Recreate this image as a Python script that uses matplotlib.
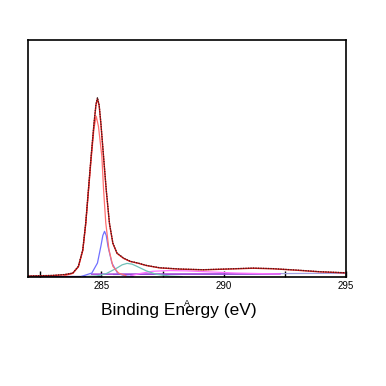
import numpy as np
from matplotlib import pyplot

pyplot.rcParams['font.family'] = ['Liberation Sans', 'DejaVu Sans']

data_x = [282.0, 283.0, 283.5, 283.83, 284.06, 284.24, 284.36, 284.47, 284.58, 284.70,
          284.78, 284.84, 284.91, 284.98, 285.09, 285.2, 285.33, 285.47, 285.64, 285.91,
          286.18, 286.5, 286.84, 287.38, 288.2, 289.16, 290.1, 291.2, 292.0, 292.97,
          293.92, 294.95]
data_y = [0.004, 0.007, 0.012, 0.02, 0.058, 0.151, 0.30, 0.486, 0.672, 0.859,
          0.965, 1.0, 0.96, 0.859, 0.672, 0.486, 0.30, 0.188, 0.132, 0.104,
          0.086, 0.076, 0.063, 0.050, 0.043, 0.039, 0.043, 0.048, 0.045, 0.037,
          0.028, 0.022]

# fitted components
c1_x = [283.5, 283.83, 284.06, 284.24, 284.36, 284.47, 284.58, 284.70, 284.79, 284.88,
        285.02, 285.09, 285.18, 285.31, 285.47, 285.70, 286.0]
c1_y = [0.005, 0.018, 0.055, 0.145, 0.29, 0.47, 0.65, 0.83, 0.896, 0.84,
        0.672, 0.486, 0.30, 0.151, 0.058, 0.02, 0.005]
c2_x = [284.2, 284.61, 284.84, 284.98, 285.06, 285.13, 285.2, 285.27, 285.43, 285.66, 285.95, 286.3]
c2_y = [0.002, 0.02, 0.076, 0.17, 0.23, 0.253, 0.23, 0.17, 0.076, 0.02, 0.004, 0.0]
c3_x = [284.4, 284.8, 285.2, 285.61, 285.85, 286.05, 286.25, 286.43, 286.84, 287.25, 287.8, 288.3]
c3_y = [0.0, 0.003, 0.017, 0.046, 0.066, 0.074, 0.070, 0.059, 0.032, 0.013, 0.003, 0.0]
c4_x = [286.2, 286.6, 287.1, 287.8, 288.5, 289.5, 290.5, 291.5, 292.3]
c4_y = [0.005, 0.018, 0.03, 0.034, 0.032, 0.026, 0.02, 0.017, 0.015]
c5_x = [284.6, 292.3]
c5_y = [0.014, 0.015]
bg_x = [285.5, 290.0, 292.3, 293.5, 295.0]
bg_y = [0.012, 0.014, 0.017, 0.018, 0.019]
base_x = [282.0, 285.0]
base_y = [0.001, 0.001]
# envelope of the fit
env_x = data_x
env_y = [0.003, 0.006, 0.011, 0.019, 0.056, 0.148, 0.297, 0.482, 0.668, 0.855,
         0.96, 0.995, 0.955, 0.855, 0.668, 0.482, 0.297, 0.186, 0.13, 0.102,
         0.085, 0.075, 0.062, 0.049, 0.042, 0.038, 0.042, 0.047, 0.044, 0.036,
         0.027, 0.021]

fig = pyplot.figure(figsize=(3.86, 3.86), dpi=100)
ax = fig.add_axes([0.0725, 0.2824, 0.8238, 0.614])

ax.plot(base_x, base_y, color='#202080', lw=0.9)
ax.plot(bg_x, bg_y, color='#a0a0e0', lw=0.9)
ax.plot(c5_x, c5_y, color='#9a30d8', lw=1.0)
ax.plot(c4_x, c4_y, color='#ff70ff', lw=0.9)
ax.plot(c3_x, c3_y, color='#70c0b8', lw=0.9)
ax.plot(c2_x, c2_y, color='#7070ff', lw=0.9)
ax.plot(c1_x, c1_y, color='#ff7070', lw=0.9)
ax.plot(env_x, env_y, color='#e01010', lw=1.0)
ax.plot(data_x, data_y, color='#3a2020', lw=0.9, ls=(0, (1, 1)))

ax.set_xlim(282, 295)
ax.set_ylim(-0.002, 1.322)
ticks = np.arange(282.5, 295.1, 2.5)
ax.set_xticks(ticks)
ax.set_xticklabels(['' if t % 5 else '%d' % t for t in ticks], fontsize=7)
ax.tick_params(axis='x', direction='in', length=4, width=1, pad=3)
ax.set_yticks([])
for s in ax.spines.values():
	s.set_linewidth(1.2)

fig.text(0.463, 0.195, 'Binding Energy (eV)', fontsize=12.5, ha='center', va='center')
fig.text(0.484, 0.215, 'A', fontsize=6.5, ha='center', va='center')

pyplot.savefig("out.png", dpi=100)
